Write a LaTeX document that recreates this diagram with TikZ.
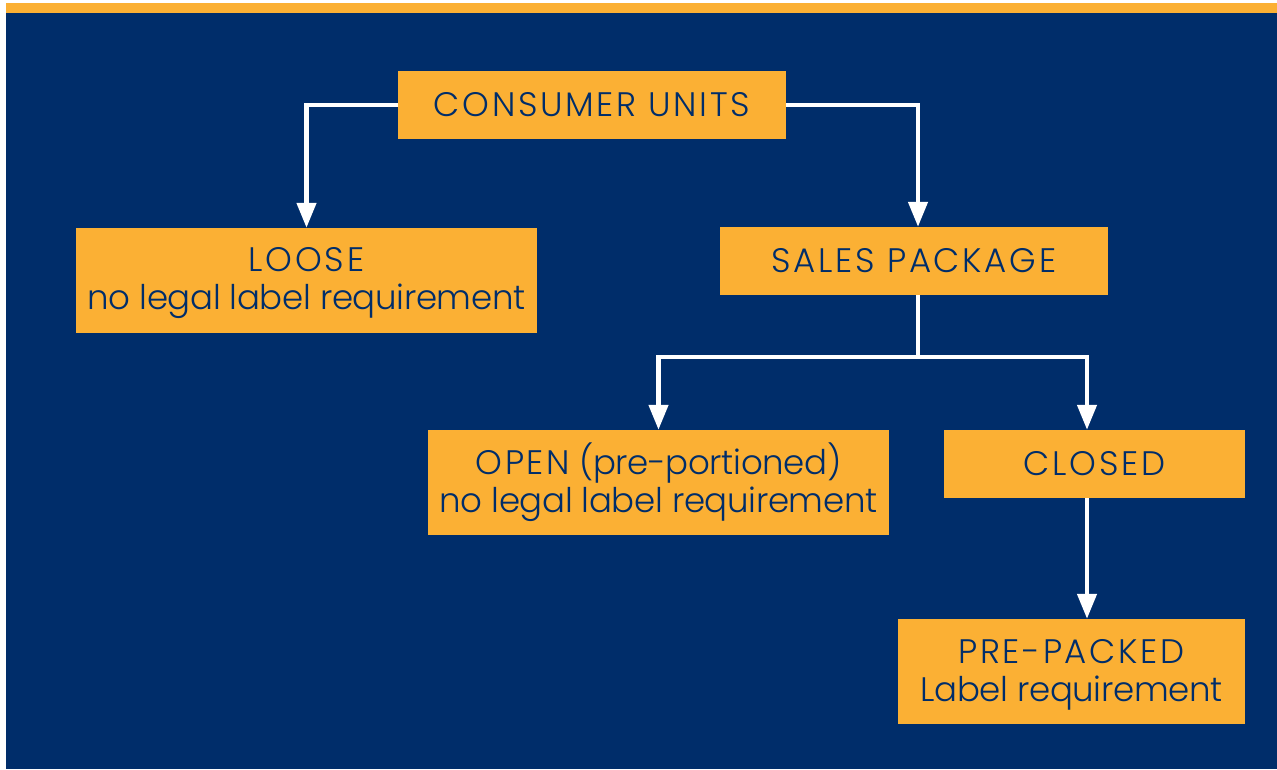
\documentclass[tikz,border=0pt]{standalone}
\usepackage{fontspec}
\setmainfont{Poppins}[UprightFont={* Light},LetterSpace=-1]
\newfontfamily\capsfont{Poppins}[UprightFont={* Light},LetterSpace=8]
\usetikzlibrary{arrows.meta}
\definecolor{navy}{RGB}{0,45,106}
\definecolor{orng}{RGB}{251,176,52}
\newcommand{\topstrut}{\rule{0pt}{30pt}}
\tikzset{
  box/.style={fill=orng,draw=none,text=navy,align=center,inner sep=0pt,
    font=\fontsize{34}{38}\selectfont},
  conn/.style={draw=white,line width=4.5pt},
  arr/.style={conn,-{Triangle[width=19pt,length=25pt]}},
}
\begin{document}
\begin{tikzpicture}[x=1pt,y=-1pt]
\useasboundingbox (0,0) rectangle (1277,769);
\fill[white] (0,0) rectangle (1277,769);
\fill[orng] (6,3) rectangle (1277,13);
\fill[navy] (6,13) rectangle (1277,769);
\node[box,minimum width=388pt,minimum height=68pt] (cu) at (592,105) {\capsfont CONSUMER UNITS};
\node[box,minimum width=461pt,minimum height=105pt] (loose) at (306.5,280.5) {\topstrut{\capsfont LOOSE}\\no legal label requirement};
\node[box,minimum width=388pt,minimum height=68pt] (sales) at (914,261) {\capsfont SALES PACKAGE};
\node[box,minimum width=461pt,minimum height=105pt] (open) at (658.5,482.5) {\topstrut{\capsfont OPEN} (pre-portioned)\\no legal label requirement};
\node[box,minimum width=301pt,minimum height=68pt] (closed) at (1094.5,464) {\capsfont CLOSED};
\node[box,minimum width=347pt,minimum height=105pt] (pre) at (1071.5,671.5) {\topstrut{\capsfont PRE-PACKED}\\Label requirement};
\coordinate (j) at (918,357);
\coordinate (c) at (1087,0);
\draw[arr] (cu.west) -| (loose.north);
\draw[arr] (cu.east) -| (sales.north -| j);
\draw[conn] (sales.south -| j) -- (j);
\draw[arr] (j) -| (open.north);
\draw[arr] (j) -| (closed.north -| c);
\draw[arr] (closed.south -| c) -- (pre.north -| c);
\end{tikzpicture}
\end{document}
